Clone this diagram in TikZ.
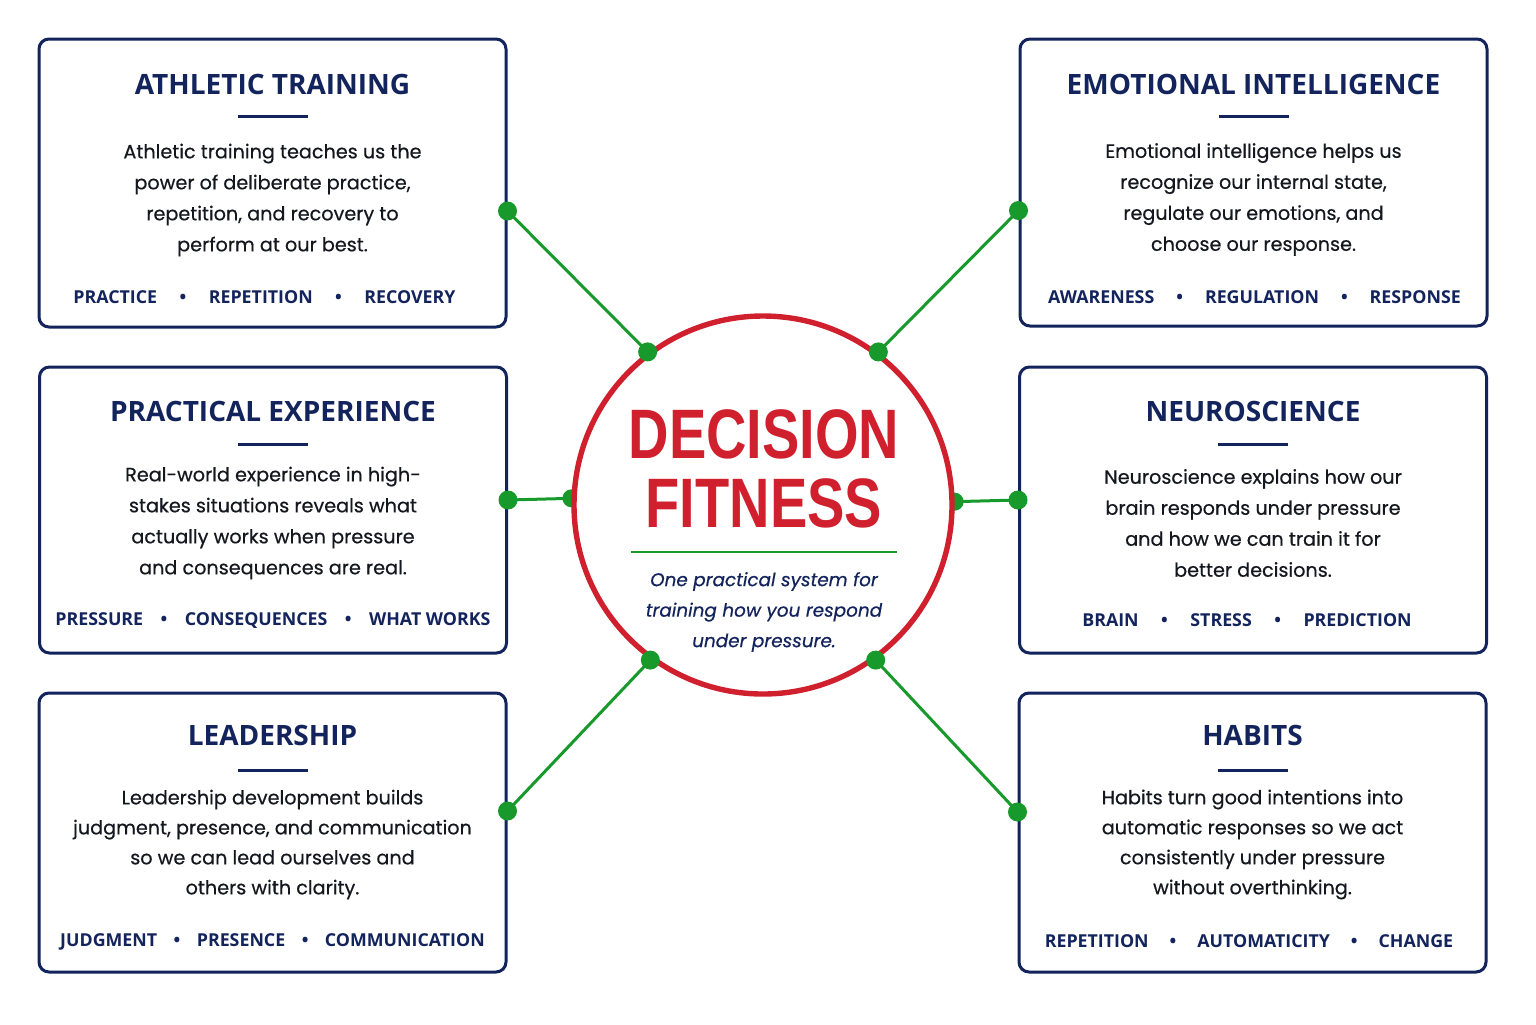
\documentclass[tikz,border=0pt]{standalone}
\usepackage{fontspec}
\setmainfont{Open Sans}
\newfontfamily\bodyfont[FakeBold=0.45]{Poppins}
\newfontfamily\hubfont[FakeStretch=0.8]{Liberation Sans}
\usepackage{xcolor}
\usetikzlibrary{positioning}

\definecolor{navy}{HTML}{13235C}
\definecolor{ink}{HTML}{15171F}
\definecolor{hubred}{HTML}{D0202E}
\definecolor{linkgreen}{HTML}{179A2B}
\newcommand{\tagsep}[1][9pt]{\hspace{#1}\textbullet\hspace{#1}\ignorespaces}

\pgfdeclarelayer{background}
\pgfsetlayers{background,main}

\begin{document}
\begin{tikzpicture}[x=0.5pt,y=-0.5pt,
        topicbox/.style={draw=navy, line width=1.5pt, rounded corners=5pt, fill=white, minimum width=233.5pt, minimum height=#1},
        boxtitle/.style={text=navy, font=\fontsize{14}{17}\selectfont\bfseries},
        boxbody/.style={text=ink, align=center, font=\bodyfont\fontsize{9.6}{15.5}\selectfont},
        boxtags/.style={text=navy, font=\fontsize{8.9}{10}\selectfont\bfseries},
        titlerule/.style={draw=navy, line width=1.5pt},
        hubring/.style={circle, draw=hubred, line width=2.7pt, fill=white, minimum size=189pt},
        link/.style={draw=linkgreen, line width=1.5pt}
        ]
            \useasboundingbox (0,0) rectangle (1536,1024);

            % topic boxes
            \node[topicbox=144pt] (athl) at (272.5,183) {};
            \node[topicbox=143.5pt] (emot) at (1253.5,182.5) {};
            \node[topicbox=143pt] (prac) at (273,510) {};
            \node[topicbox=143pt] (neuro) at (1253,510) {};
            \node[topicbox=139.5pt] (lead) at (272.5,832.5) {};
            \node[topicbox=139.5pt] (habit) at (1252.5,832.5) {};

            \node[boxtitle] (athl-t) at ([yshift=-23.5pt]athl.north) {ATHLETIC TRAINING};
            \node[boxtitle] (emot-t) at ([yshift=-23.5pt]emot.north) {EMOTIONAL INTELLIGENCE};
            \node[boxtitle] (prac-t) at ([yshift=-23pt]prac.north) {PRACTICAL EXPERIENCE};
            \node[boxtitle] (neuro-t) at ([yshift=-23pt]neuro.north) {NEUROSCIENCE};
            \node[boxtitle] (lead-t) at ([yshift=-22pt]lead.north) {LEADERSHIP};
            \node[boxtitle] (habit-t) at ([yshift=-22pt]habit.north) {HABITS};

            \foreach \b in {athl,emot,prac,neuro,lead,habit}
                \draw[titlerule] ([xshift=-17.5pt,yshift=-39.5pt]\b.north) -- ([xshift=17.5pt,yshift=-39.5pt]\b.north);

            \node[boxbody] (athl-b) at ([yshift=-8.5pt]athl.center) {Athletic training teaches us the\\power of deliberate practice,\\repetition, and recovery to\\perform at our best.};
            \node[boxbody] (emot-b) at ([yshift=-8.5pt]emot.center) {Emotional intelligence helps us\\recognize our internal state,\\regulate our emotions, and\\choose our response.};
            \node[boxbody] (prac-b) at ([yshift=-6.5pt]prac.center) {Real-world experience in high-\\stakes situations reveals what\\actually works when pressure\\and consequences are real.};
            \node[boxbody] (neuro-b) at ([yshift=-6.5pt]neuro.center) {Neuroscience explains how our\\brain responds under pressure\\and how we can train it for\\better decisions.};
            \node[boxbody, font=\bodyfont\fontsize{9.6}{15}\selectfont] (lead-b) at ([yshift=-6pt]lead.center) {Leadership development builds\\judgment, presence, and communication\\so we can lead ourselves and\\others with clarity.};
            \node[boxbody, font=\bodyfont\fontsize{9.6}{15}\selectfont] (habit-b) at ([yshift=-6pt]habit.center) {Habits turn good intentions into\\automatic responses so we act\\consistently under pressure\\without overthinking.};

            \node[boxtags] (athl-k) at ([xshift=-4pt,yshift=15.5pt]athl.south) {PRACTICE\tagsep[11.25pt] REPETITION\tagsep[11.25pt] RECOVERY};
            \node[boxtags] (emot-k) at ([xshift=0.5pt,yshift=15pt]emot.south) {AWARENESS\tagsep[11pt] REGULATION\tagsep[11pt] RESPONSE};
            \node[boxtags] (prac-k) at ([xshift=0pt,yshift=17pt]prac.south) {PRESSURE\tagsep[8.75pt] CONSEQUENCES\tagsep[8.75pt] WHAT WORKS};
            \node[boxtags] (neuro-k) at ([xshift=-3pt,yshift=17pt]neuro.south) {BRAIN\tagsep[11.25pt] STRESS\tagsep[11.25pt] PREDICTION};
            \node[boxtags] (lead-k) at ([xshift=0pt,yshift=16pt]lead.south) {JUDGMENT\tagsep[8.25pt] PRESENCE\tagsep[8.25pt] COMMUNICATION};
            \node[boxtags] (habit-k) at ([xshift=-1.75pt,yshift=16pt]habit.south) {REPETITION\tagsep[10.5pt] AUTOMATICITY\tagsep[10.5pt] CHANGE};

            % hub
            \node[hubring] (hub) at (763,505) {};
            \node[text=hubred, align=center, font=\hubfont\fontsize{35}{34.5}\selectfont\bfseries] (hub-t) at (764,469) {DECISION\\FITNESS};
            \draw[draw=linkgreen, line width=1.2pt] (631,552) -- (897,552);
            \node[text=navy, align=center, font=\bodyfont\fontsize{9.2}{15.25}\selectfont\itshape] (hub-s) at (764,612) {One practical system for\\training how you respond\\under pressure.};

            % links
            \coordinate (athl-p) at ([yshift=-14pt]athl.east);
            \coordinate (emot-p) at ([yshift=-14pt]emot.west);
            \coordinate (prac-p) at ([yshift=5pt]prac.east);
            \coordinate (neuro-p) at ([yshift=5pt]neuro.west);
            \coordinate (lead-p) at ([yshift=10.75pt]lead.east);
            \coordinate (habit-p) at ([yshift=10.25pt]habit.west);

            \begin{pgfonlayer}{background}
            \draw[link] (athl-p) -- (hub.127);
            \draw[link] (emot-p) -- (hub.53);
            \draw[link] (prac-p) -- (hub.178.5);
            \draw[link] (neuro-p) -- (hub.1.5);
            \draw[link] (lead-p) -- (hub.234);
            \draw[link] (habit-p) -- (hub.306);
            \fill[linkgreen] (hub.178.5) circle (4.5pt) (hub.1.5) circle (4.5pt);
            \end{pgfonlayer}

            \foreach \p in {athl-p,emot-p,prac-p,neuro-p,lead-p,habit-p,hub.127,hub.53,hub.234,hub.306}
                \fill[linkgreen] (\p) circle (4.75pt);

        \end{tikzpicture}
\end{document}
